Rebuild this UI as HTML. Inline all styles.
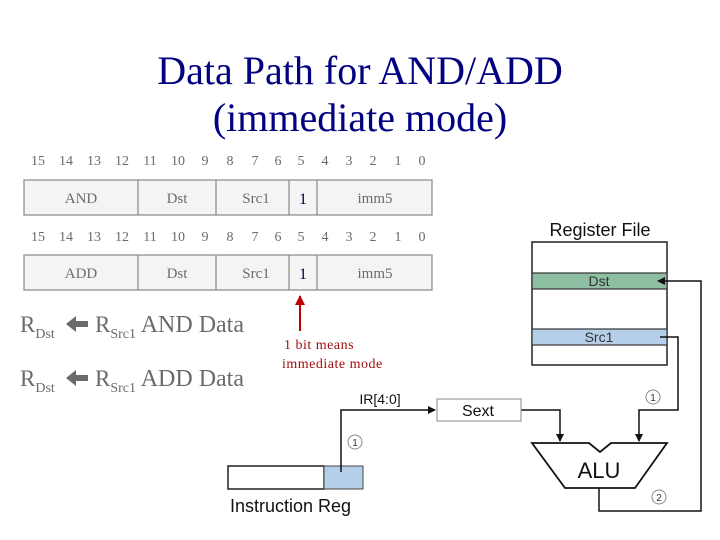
<!DOCTYPE html>
<html><head><meta charset="utf-8"><style>
html,body{margin:0;padding:0;background:#fff;}
svg{display:block;}
</style></head><body>
<svg width="720" height="540" viewBox="0 0 720 540" xmlns="http://www.w3.org/2000/svg">
<defs>
<marker id="ah" markerWidth="8" markerHeight="8" refX="7" refY="4" orient="auto" markerUnits="userSpaceOnUse"><path d="M0,0 L8,4 L0,8 z" fill="#111"/></marker>
<marker id="rah" markerWidth="10" markerHeight="10" refX="9" refY="5" orient="auto" markerUnits="userSpaceOnUse"><path d="M0,0 L10,5 L0,10 z" fill="#c00000"/></marker>
</defs>
<g font-family="Liberation Serif, serif" fill="#000080" font-size="40" text-anchor="middle">
<text x="360" y="84">Data Path for AND/ADD</text>
<text x="360" y="131">(immediate mode)</text>
</g>
<g font-family="Liberation Serif, serif" fill="#6b6b6b" font-size="14" text-anchor="middle">
<text x="38" y="165">15</text><text x="66" y="165">14</text><text x="94" y="165">13</text><text x="122" y="165">12</text><text x="150" y="165">11</text><text x="178" y="165">10</text><text x="205" y="165">9</text><text x="230" y="165">8</text><text x="255" y="165">7</text><text x="278" y="165">6</text><text x="301" y="165">5</text><text x="325" y="165">4</text><text x="349" y="165">3</text><text x="373" y="165">2</text><text x="398" y="165">1</text><text x="422" y="165">0</text>
<text x="38" y="241">15</text><text x="66" y="241">14</text><text x="94" y="241">13</text><text x="122" y="241">12</text><text x="150" y="241">11</text><text x="178" y="241">10</text><text x="205" y="241">9</text><text x="230" y="241">8</text><text x="255" y="241">7</text><text x="278" y="241">6</text><text x="301" y="241">5</text><text x="325" y="241">4</text><text x="349" y="241">3</text><text x="373" y="241">2</text><text x="398" y="241">1</text><text x="422" y="241">0</text>
</g>
<g stroke="#888" stroke-width="1.2" fill="#f4f4f4">
<rect x="24" y="180" width="408" height="35"/>
<line x1="138" y1="180" x2="138" y2="215"/><line x1="216" y1="180" x2="216" y2="215"/><line x1="289" y1="180" x2="289" y2="215"/><line x1="317" y1="180" x2="317" y2="215"/>
<rect x="24" y="255" width="408" height="35"/>
<line x1="138" y1="255" x2="138" y2="290"/><line x1="216" y1="255" x2="216" y2="290"/><line x1="289" y1="255" x2="289" y2="290"/><line x1="317" y1="255" x2="317" y2="290"/>
</g>
<g font-family="Liberation Serif, serif" fill="#6b6b6b" font-size="15" text-anchor="middle">
<text x="81" y="203">AND</text><text x="177" y="203">Dst</text><text x="256" y="203">Src1</text><text x="375" y="203">imm5</text>
<text x="81" y="278">ADD</text><text x="177" y="278">Dst</text><text x="256" y="278">Src1</text><text x="375" y="278">imm5</text>
<text x="303" y="204" fill="#000040" font-size="16">1</text><text x="303" y="279" fill="#000040" font-size="16">1</text>
</g>
<line x1="300" y1="331" x2="300" y2="296" stroke="#c00000" stroke-width="2" marker-end="url(#rah)"/>
<g font-family="Liberation Serif, serif" fill="#a01010" font-size="14">
<text x="284" y="349" letter-spacing="0.5">1 bit means</text>
<text x="282" y="368" letter-spacing="0.5">immediate mode</text>
</g>
<g font-family="Liberation Serif, serif" fill="#6b6b6b" font-size="23">
<text x="20" y="332">R<tspan font-size="14" dy="6">Dst</tspan></text>
<text x="95" y="332">R<tspan font-size="14" dy="6">Src1</tspan><tspan dy="-6" font-size="24"> AND Data</tspan></text>
<text x="20" y="386">R<tspan font-size="14" dy="6">Dst</tspan></text>
<text x="95" y="386">R<tspan font-size="14" dy="6">Src1</tspan><tspan dy="-6" font-size="24"> ADD Data</tspan></text>
<path d="M66,324 L76,316 L76,321 L88,321 L88,327 L76,327 L76,332 z" fill="#6b6b6b"/>
<path d="M66,378 L76,370 L76,375 L88,375 L88,381 L76,381 L76,386 z" fill="#6b6b6b"/>
</g>
<g font-family="Liberation Sans, sans-serif" fill="#111">
<text x="600" y="236" font-size="18" text-anchor="middle">Register File</text>
<rect x="532" y="242" width="135" height="123" fill="#fff" stroke="#222" stroke-width="1.5"/>
<rect x="532" y="273" width="135" height="16" fill="#8fbfa3" stroke="#333" stroke-width="1.2"/>
<rect x="532" y="329" width="135" height="16" fill="#b5cfe8" stroke="#333" stroke-width="1.2"/>
<text x="599" y="286" font-size="14" text-anchor="middle" fill="#333">Dst</text>
<text x="599" y="342" font-size="14" text-anchor="middle" fill="#333">Src1</text>
<polyline points="599,488 599,511 701,511 701,281 658,281" fill="none" stroke="#111" stroke-width="1.5" marker-end="url(#ah)"/>
<polyline points="660,337 678,337 678,410 639,410 639,441" fill="none" stroke="#111" stroke-width="1.5" marker-end="url(#ah)"/>
<polyline points="521,410 560,410 560,441" fill="none" stroke="#111" stroke-width="1.5" marker-end="url(#ah)"/>
<polygon points="532,443 589,443 600,452 611,443 667,443 635,488 565,488" fill="#fff" stroke="#111" stroke-width="1.8"/>
<text x="599" y="478" font-size="22" text-anchor="middle">ALU</text>
<rect x="437" y="399" width="84" height="22" fill="#fff" stroke="#888" stroke-width="1"/>
<text x="478" y="416" font-size="16" text-anchor="middle">Sext</text>
<rect x="228" y="466" width="96" height="23" fill="#fff" stroke="#222" stroke-width="1.5"/>
<rect x="324" y="466" width="39" height="23" fill="#b5cfe8" stroke="#444" stroke-width="1"/>
<polyline points="341,472 341,410 435,410" fill="none" stroke="#111" stroke-width="1.5" marker-end="url(#ah)"/>
<text x="380" y="404" font-size="14" text-anchor="middle">IR[4:0]</text>
<text x="230" y="512" font-size="18">Instruction Reg</text>
<g fill="none" stroke="#888" stroke-width="1"><circle cx="355" cy="442" r="7"/><circle cx="653" cy="397" r="7"/><circle cx="659" cy="497" r="7"/></g>
<g font-size="10" text-anchor="middle" fill="#333"><text x="355" y="446">1</text><text x="653" y="401">1</text><text x="659" y="501">2</text></g>
</g>
</svg>
</body></html>
